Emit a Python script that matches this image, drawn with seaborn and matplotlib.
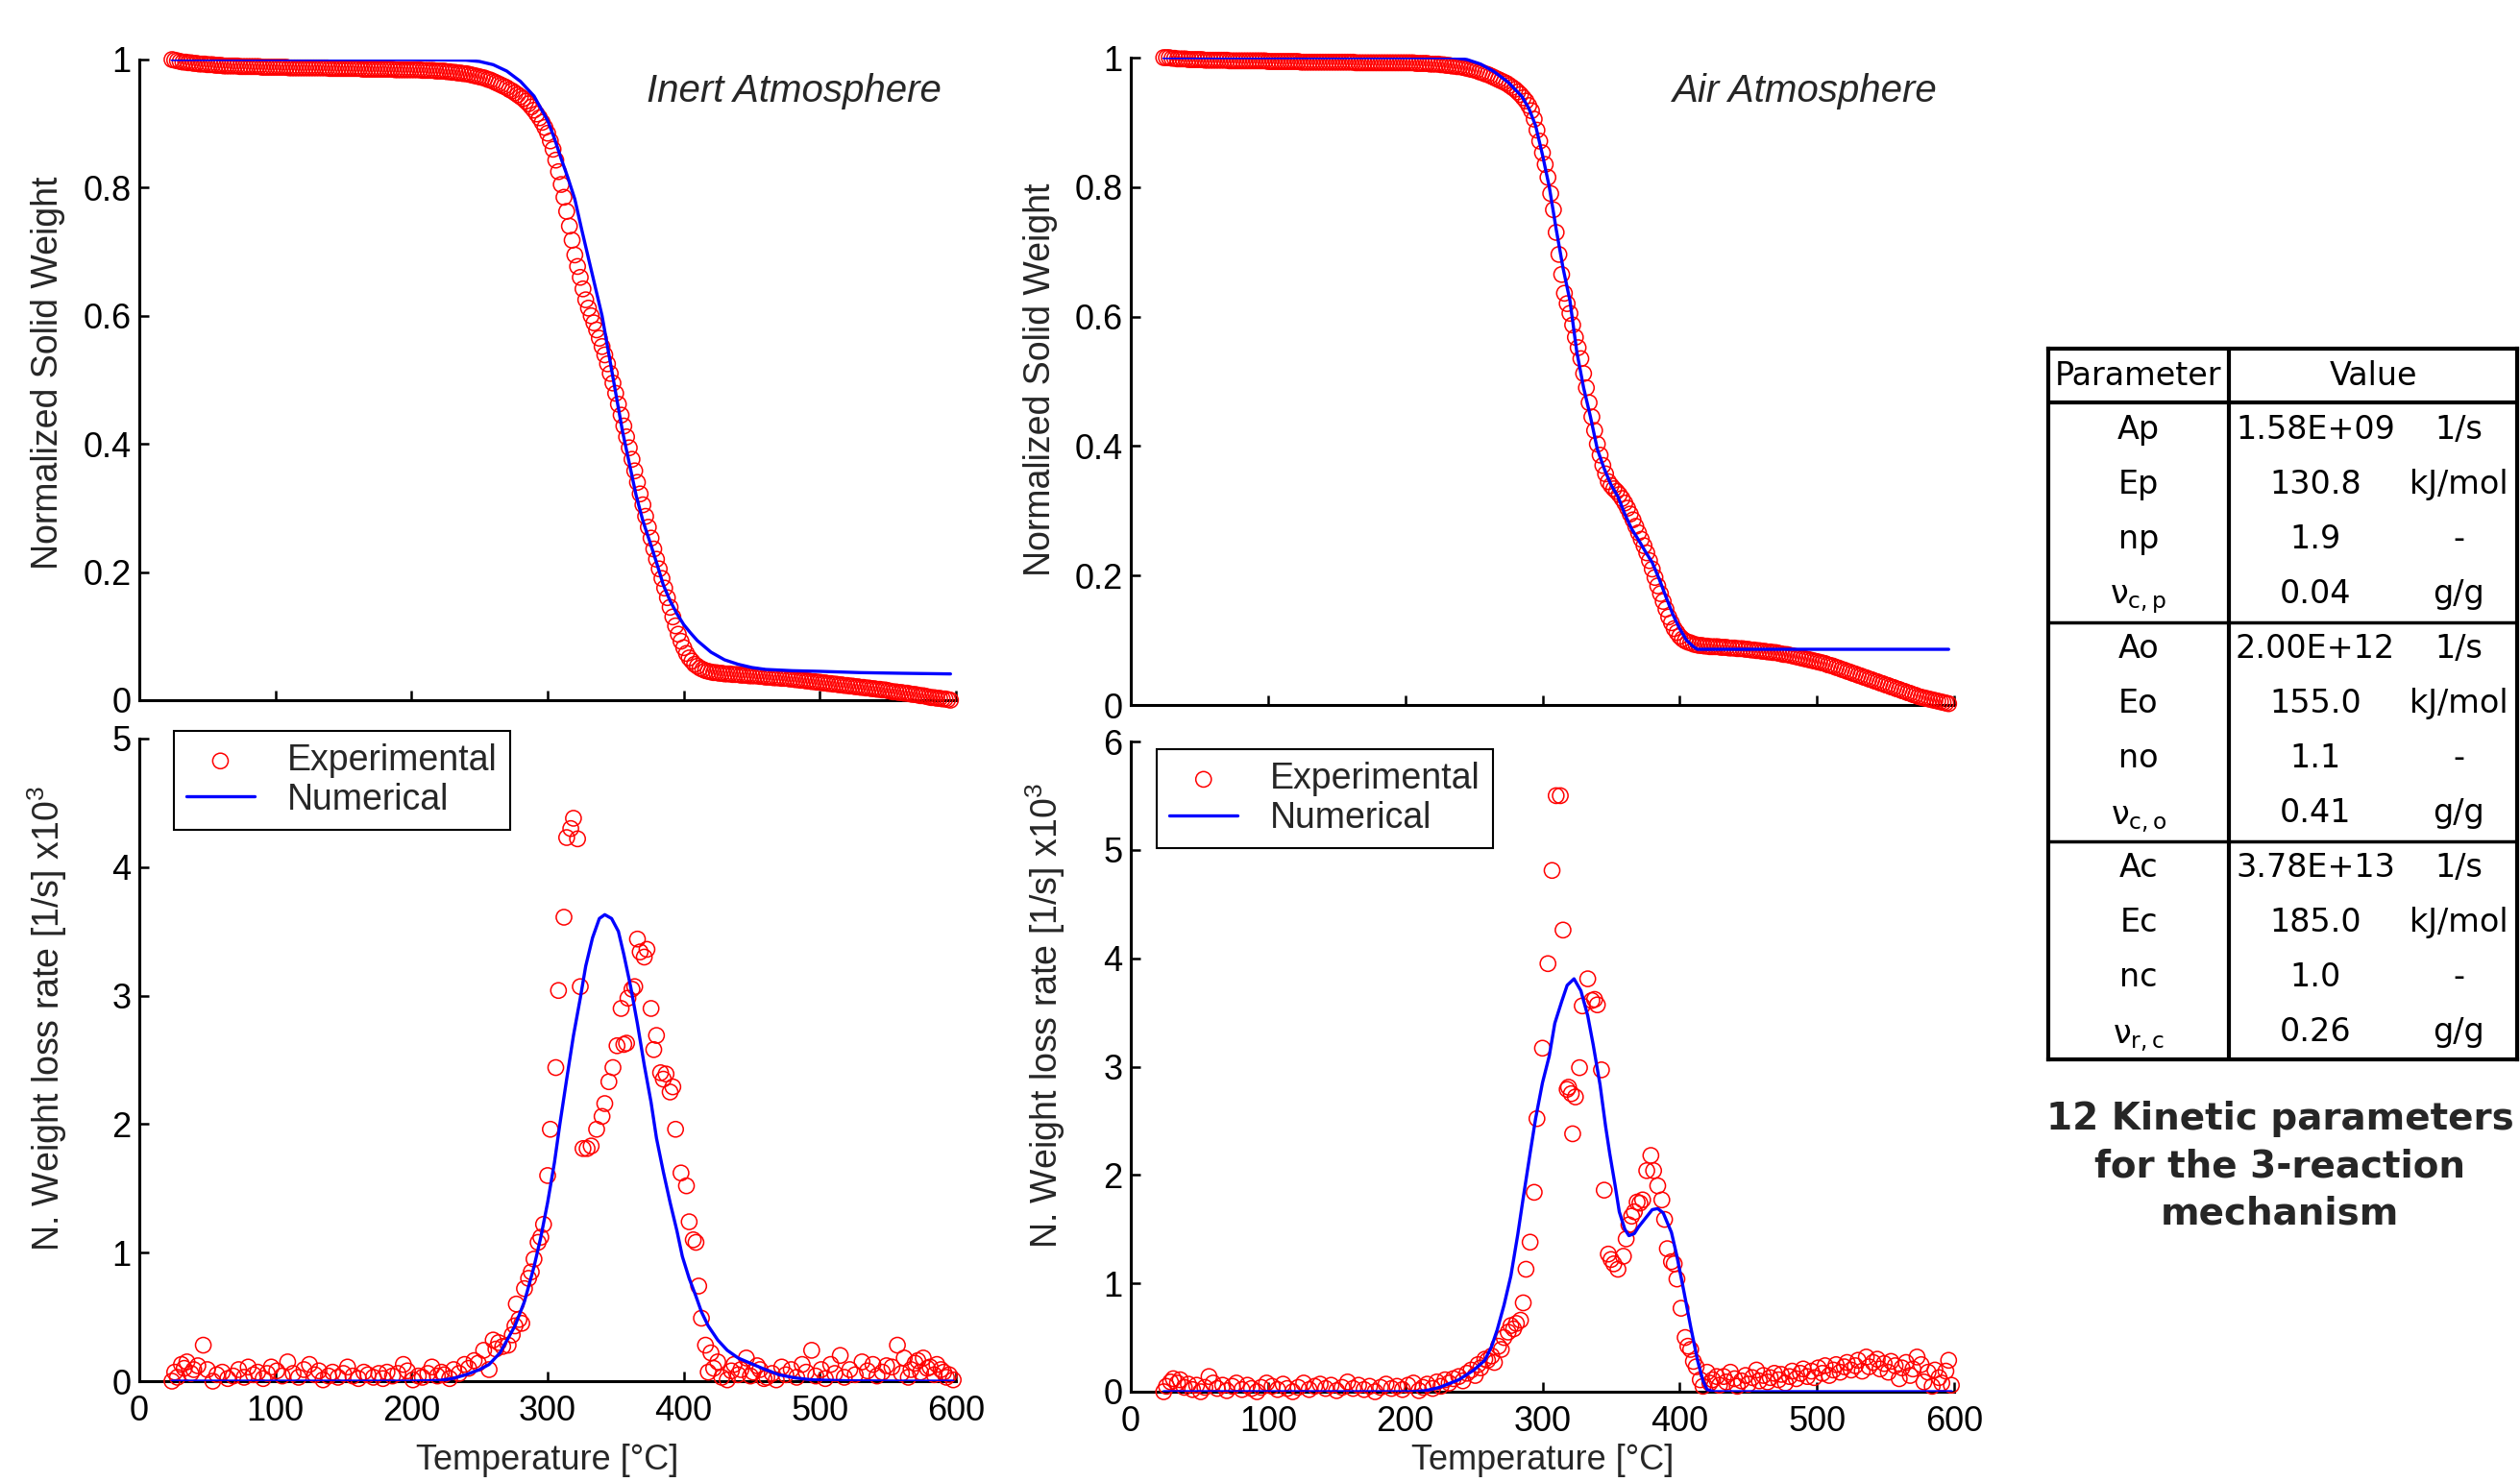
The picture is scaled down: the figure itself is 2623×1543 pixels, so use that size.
import matplotlib
matplotlib.use('Agg')
import matplotlib.pyplot as plt
import seaborn as sns

sns.set_style('white')
plt.rcParams['font.family'] = ['Liberation Sans', 'DejaVu Sans']
plt.rcParams['mathtext.default'] = 'regular'

# ---------------- data ----------------
# TGA sampling temperatures (experimental weight curves), degC
temp_tga = [24, 26, 28, 30, 32, 34, 36, 38, 40, 42,
            44, 46, 48, 50, 52, 54, 56, 58, 60, 62,
            64, 66, 68, 70, 72, 74, 76, 78, 80, 82,
            84, 86, 88, 90, 92, 94, 96, 98, 100, 102,
            104, 106, 108, 110, 112, 114, 116, 118, 120, 122,
            124, 126, 128, 130, 132, 134, 136, 138, 140, 142,
            144, 146, 148, 150, 152, 154, 156, 158, 160, 162,
            164, 166, 168, 170, 172, 174, 176, 178, 180, 182,
            184, 186, 188, 190, 192, 194, 196, 198, 200, 202,
            204, 206, 208, 210, 212, 214, 216, 218, 220, 222,
            224, 226, 228, 230, 232, 234, 236, 238, 240, 242,
            244, 246, 248, 250, 252, 254, 256, 258, 260, 262,
            264, 266, 268, 270, 272, 274, 276, 278, 280, 282,
            284, 286, 288, 290, 292, 294, 296, 298, 300, 302,
            304, 306, 308, 310, 312, 314, 316, 318, 320, 322,
            324, 326, 328, 330, 332, 334, 336, 338, 340, 342,
            344, 346, 348, 350, 352, 354, 356, 358, 360, 362,
            364, 366, 368, 370, 372, 374, 376, 378, 380, 382,
            384, 386, 388, 390, 392, 394, 396, 398, 400, 402,
            404, 406, 408, 410, 412, 414, 416, 418, 420, 422,
            424, 426, 428, 430, 432, 434, 436, 438, 440, 442,
            444, 446, 448, 450, 452, 454, 456, 458, 460, 462,
            464, 466, 468, 470, 472, 474, 476, 478, 480, 482,
            484, 486, 488, 490, 492, 494, 496, 498, 500, 502,
            504, 506, 508, 510, 512, 514, 516, 518, 520, 522,
            524, 526, 528, 530, 532, 534, 536, 538, 540, 542,
            544, 546, 548, 550, 552, 554, 556, 558, 560, 562,
            564, 566, 568, 570, 572, 574, 576, 578, 580, 582,
            584, 586, 588, 590, 592, 594, 596]

weight_inert_exp = [1.000, 0.999, 0.998, 0.997, 0.996, 0.996, 0.995, 0.995, 0.994, 0.994,
                    0.993, 0.993, 0.993, 0.992, 0.992, 0.992, 0.991, 0.991, 0.991, 0.990,
                    0.990, 0.990, 0.990, 0.990, 0.990, 0.989, 0.989, 0.989, 0.989, 0.989,
                    0.989, 0.989, 0.989, 0.988, 0.988, 0.988, 0.988, 0.988, 0.988, 0.988,
                    0.988, 0.988, 0.988, 0.987, 0.987, 0.987, 0.987, 0.987, 0.987, 0.987,
                    0.987, 0.987, 0.987, 0.987, 0.987, 0.987, 0.987, 0.987, 0.986, 0.986,
                    0.986, 0.986, 0.986, 0.986, 0.986, 0.986, 0.986, 0.986, 0.986, 0.986,
                    0.985, 0.985, 0.985, 0.985, 0.985, 0.985, 0.985, 0.985, 0.985, 0.985,
                    0.985, 0.985, 0.984, 0.984, 0.984, 0.984, 0.984, 0.984, 0.984, 0.984,
                    0.984, 0.984, 0.983, 0.983, 0.983, 0.983, 0.983, 0.982, 0.982, 0.982,
                    0.982, 0.981, 0.981, 0.980, 0.980, 0.979, 0.979, 0.978, 0.978, 0.977,
                    0.976, 0.975, 0.974, 0.973, 0.972, 0.971, 0.969, 0.968, 0.966, 0.964,
                    0.962, 0.960, 0.958, 0.956, 0.953, 0.951, 0.948, 0.945, 0.942, 0.939,
                    0.935, 0.931, 0.926, 0.921, 0.915, 0.909, 0.902, 0.894, 0.885, 0.873,
                    0.860, 0.843, 0.825, 0.805, 0.785, 0.763, 0.740, 0.718, 0.695, 0.677,
                    0.660, 0.642, 0.625, 0.612, 0.600, 0.589, 0.578, 0.565, 0.552, 0.539,
                    0.525, 0.510, 0.495, 0.479, 0.462, 0.445, 0.428, 0.411, 0.394, 0.376,
                    0.358, 0.340, 0.322, 0.305, 0.287, 0.270, 0.253, 0.236, 0.220, 0.205,
                    0.190, 0.175, 0.160, 0.145, 0.130, 0.116, 0.103, 0.092, 0.082, 0.073,
                    0.066, 0.061, 0.056, 0.053, 0.050, 0.048, 0.046, 0.045, 0.044, 0.043,
                    0.043, 0.042, 0.042, 0.041, 0.041, 0.041, 0.040, 0.040, 0.040, 0.039,
                    0.039, 0.039, 0.038, 0.038, 0.038, 0.038, 0.037, 0.037, 0.036, 0.036,
                    0.036, 0.035, 0.035, 0.035, 0.034, 0.034, 0.034, 0.033, 0.033, 0.032,
                    0.032, 0.031, 0.031, 0.030, 0.030, 0.029, 0.029, 0.028, 0.028, 0.027,
                    0.027, 0.026, 0.026, 0.025, 0.025, 0.024, 0.024, 0.023, 0.023, 0.022,
                    0.022, 0.021, 0.021, 0.020, 0.020, 0.019, 0.019, 0.018, 0.018, 0.017,
                    0.017, 0.016, 0.016, 0.015, 0.014, 0.013, 0.013, 0.012, 0.012, 0.011,
                    0.011, 0.010, 0.009, 0.009, 0.008, 0.007, 0.007, 0.006, 0.005, 0.004,
                    0.004, 0.003, 0.003, 0.002, 0.002, 0.001, 0.000]

weight_air_exp = [1.000, 1.000, 1.000, 0.999, 0.999, 0.998, 0.998, 0.998, 0.998, 0.997,
                  0.997, 0.997, 0.997, 0.997, 0.997, 0.996, 0.996, 0.996, 0.996, 0.996,
                  0.996, 0.996, 0.996, 0.996, 0.995, 0.995, 0.995, 0.995, 0.995, 0.995,
                  0.995, 0.995, 0.995, 0.995, 0.995, 0.995, 0.995, 0.995, 0.994, 0.994,
                  0.994, 0.994, 0.994, 0.994, 0.994, 0.994, 0.994, 0.994, 0.994, 0.994,
                  0.993, 0.993, 0.993, 0.993, 0.993, 0.993, 0.993, 0.993, 0.993, 0.993,
                  0.993, 0.993, 0.993, 0.993, 0.993, 0.993, 0.993, 0.993, 0.993, 0.993,
                  0.992, 0.992, 0.992, 0.992, 0.992, 0.992, 0.992, 0.992, 0.992, 0.992,
                  0.992, 0.992, 0.992, 0.992, 0.992, 0.992, 0.992, 0.992, 0.992, 0.992,
                  0.992, 0.992, 0.991, 0.991, 0.991, 0.991, 0.991, 0.990, 0.990, 0.990,
                  0.990, 0.989, 0.989, 0.988, 0.988, 0.987, 0.987, 0.986, 0.986, 0.985,
                  0.984, 0.983, 0.982, 0.981, 0.980, 0.978, 0.977, 0.975, 0.974, 0.972,
                  0.970, 0.968, 0.966, 0.964, 0.962, 0.960, 0.957, 0.954, 0.951, 0.947,
                  0.943, 0.938, 0.933, 0.926, 0.918, 0.905, 0.888, 0.871, 0.853, 0.835,
                  0.815, 0.790, 0.765, 0.730, 0.696, 0.665, 0.636, 0.620, 0.605, 0.587,
                  0.568, 0.552, 0.535, 0.512, 0.490, 0.467, 0.445, 0.424, 0.403, 0.386,
                  0.370, 0.357, 0.345, 0.339, 0.334, 0.330, 0.325, 0.319, 0.312, 0.304,
                  0.295, 0.286, 0.276, 0.266, 0.256, 0.246, 0.235, 0.223, 0.210, 0.197,
                  0.184, 0.172, 0.160, 0.148, 0.136, 0.127, 0.118, 0.112, 0.106, 0.102,
                  0.099, 0.097, 0.096, 0.094, 0.093, 0.092, 0.092, 0.091, 0.091, 0.090,
                  0.090, 0.090, 0.090, 0.089, 0.089, 0.089, 0.088, 0.088, 0.088, 0.087,
                  0.087, 0.087, 0.086, 0.086, 0.085, 0.085, 0.084, 0.084, 0.083, 0.083,
                  0.082, 0.082, 0.081, 0.081, 0.080, 0.079, 0.078, 0.078, 0.077, 0.076,
                  0.075, 0.074, 0.073, 0.072, 0.071, 0.070, 0.069, 0.068, 0.067, 0.066,
                  0.065, 0.064, 0.062, 0.061, 0.060, 0.058, 0.057, 0.055, 0.054, 0.052,
                  0.051, 0.049, 0.048, 0.046, 0.045, 0.043, 0.042, 0.040, 0.039, 0.037,
                  0.036, 0.034, 0.033, 0.031, 0.030, 0.028, 0.027, 0.025, 0.024, 0.022,
                  0.021, 0.019, 0.018, 0.016, 0.015, 0.013, 0.012, 0.011, 0.010, 0.009,
                  0.008, 0.007, 0.006, 0.005, 0.004, 0.003, 0.002]

# numerical weight curves
temp_w_inert_num = [24, 100, 200, 240, 250, 260, 270, 280, 290, 300,
                    305, 310, 315, 320, 325, 330, 335, 340, 345, 350,
                    355, 360, 365, 370, 375, 380, 385, 390, 395, 400,
                    405, 410, 420, 430, 440, 450, 460, 480, 500, 530,
                    560, 596]
weight_inert_num = [1.000, 1.000, 1.000, 0.999, 0.997, 0.992, 0.982, 0.966, 0.943, 0.905,
                    0.877, 0.845, 0.815, 0.782, 0.735, 0.690, 0.645, 0.600, 0.540, 0.480,
                    0.420, 0.370, 0.320, 0.280, 0.248, 0.215, 0.180, 0.155, 0.135, 0.118,
                    0.105, 0.093, 0.075, 0.063, 0.056, 0.051, 0.048, 0.046, 0.045, 0.043,
                    0.042, 0.041]

temp_w_air_num = [24, 100, 200, 235, 245, 255, 265, 275, 285, 290,
                  295, 300, 305, 310, 315, 320, 325, 330, 335, 340,
                  345, 350, 355, 360, 365, 370, 375, 380, 385, 390,
                  395, 400, 405, 410, 413, 450, 500, 550, 596]
weight_air_num = [1.000, 1.000, 1.000, 1.000, 0.997, 0.990, 0.978, 0.962, 0.940, 0.922,
                  0.895, 0.850, 0.800, 0.735, 0.675, 0.625, 0.546, 0.490, 0.445, 0.395,
                  0.365, 0.340, 0.322, 0.295, 0.272, 0.255, 0.237, 0.220, 0.195, 0.167,
                  0.140, 0.118, 0.100, 0.090, 0.086, 0.086, 0.086, 0.086, 0.086]

# experimental weight loss rate, inert
temp_r_inert_exp = [24, 26, 28, 31, 33, 35, 38, 40, 43, 47,
                    50, 54, 57, 61, 65, 69, 73, 77, 80, 84,
                    87, 91, 94, 97, 101, 105, 109, 113, 117, 121,
                    125, 129, 132, 135, 139, 142, 146, 150, 153, 157,
                    161, 165, 168, 172, 176, 179, 182, 186, 190, 194,
                    197, 201, 205, 208, 212, 215, 219, 222, 224, 228,
                    231, 235, 239, 242, 246, 249, 253, 257, 260, 262,
                    264, 267, 271, 274, 276, 277, 279, 281, 283, 286,
                    288, 290, 293, 295, 297, 300, 302, 306, 308, 312,
                    314, 317, 319, 322, 324, 326, 329, 332, 336, 340,
                    342, 345, 348, 351, 354, 356, 358, 359, 362, 364,
                    366, 368, 371, 373, 376, 378, 380, 383, 385, 387,
                    390, 392, 394, 398, 402, 404, 407, 409, 411, 413,
                    416, 418, 420, 422, 425, 428, 432, 435, 437, 440,
                    442, 446, 449, 451, 454, 456, 459, 461, 465, 468,
                    472, 475, 479, 483, 487, 490, 494, 497, 501, 504,
                    508, 511, 515, 518, 522, 526, 531, 535, 539, 542,
                    546, 549, 553, 557, 560, 562, 565, 567, 570, 572,
                    574, 576, 579, 581, 584, 586, 589, 591, 593, 595,
                    598]
rate_inert_exp = [0.00, 0.07, 0.03, 0.13, 0.10, 0.15, 0.06, 0.09, 0.12, 0.28,
                  0.09, 0.00, 0.05, 0.07, 0.02, 0.04, 0.09, 0.03, 0.11, 0.05,
                  0.07, 0.02, 0.06, 0.11, 0.08, 0.04, 0.15, 0.06, 0.03, 0.09,
                  0.13, 0.05, 0.08, 0.01, 0.04, 0.07, 0.03, 0.06, 0.11, 0.04,
                  0.02, 0.07, 0.05, 0.03, 0.06, 0.02, 0.07, 0.04, 0.06, 0.13,
                  0.08, 0.01, 0.04, 0.03, 0.06, 0.11, 0.04, 0.07, 0.05, 0.02,
                  0.09, 0.06, 0.13, 0.10, 0.16, 0.14, 0.24, 0.09, 0.32, 0.25,
                  0.30, 0.27, 0.28, 0.36, 0.43, 0.60, 0.48, 0.45, 0.72, 0.80,
                  0.85, 0.95, 1.08, 1.12, 1.22, 1.60, 1.96, 2.44, 3.04, 3.61,
                  4.23, 4.30, 4.38, 4.22, 3.07, 1.81, 1.81, 1.83, 1.96, 2.06,
                  2.16, 2.33, 2.44, 2.61, 2.90, 2.62, 2.63, 2.98, 3.05, 3.07,
                  3.44, 3.34, 3.30, 3.36, 2.90, 2.58, 2.69, 2.40, 2.35, 2.39,
                  2.25, 2.29, 1.96, 1.62, 1.52, 1.24, 1.10, 1.08, 0.74, 0.49,
                  0.28, 0.07, 0.22, 0.10, 0.15, 0.03, 0.01, 0.08, 0.13, 0.05,
                  0.09, 0.18, 0.04, 0.07, 0.12, 0.09, 0.02, 0.03, 0.06, 0.01,
                  0.11, 0.05, 0.09, 0.03, 0.13, 0.07, 0.24, 0.04, 0.09, 0.02,
                  0.13, 0.06, 0.20, 0.03, 0.09, 0.05, 0.15, 0.08, 0.13, 0.04,
                  0.07, 0.12, 0.11, 0.28, 0.06, 0.18, 0.03, 0.09, 0.14, 0.16,
                  0.07, 0.18, 0.10, 0.11, 0.05, 0.13, 0.09, 0.07, 0.03, 0.05,
                  0.01]

temp_r_inert_num = [24, 200, 220, 230, 240, 250, 257, 265, 276, 283,
                    290, 295, 300, 305, 309, 314, 319, 324, 328, 333,
                    338, 342, 347, 352, 356, 361, 366, 371, 376, 380,
                    385, 390, 395, 399, 404, 409, 413, 418, 425, 432,
                    440, 451, 460, 470, 482, 494, 520, 560, 598]
rate_inert_num = [0.0, 0.0, 0.005, 0.02, 0.05, 0.09, 0.13, 0.22, 0.43, 0.62,
                  0.89, 1.12, 1.39, 1.70, 2.00, 2.35, 2.69, 2.98, 3.23, 3.45,
                  3.60, 3.63, 3.60, 3.50, 3.32, 3.07, 2.78, 2.46, 2.17, 1.89,
                  1.63, 1.39, 1.17, 0.97, 0.80, 0.66, 0.54, 0.43, 0.32, 0.24,
                  0.18, 0.13, 0.09, 0.05, 0.025, 0.01, 0.003, 0.0, 0.0]

# experimental weight loss rate, air
temp_r_air_exp = [24, 26, 29, 31, 34, 36, 39, 42, 45, 48,
                  51, 54, 57, 60, 63, 67, 70, 74, 77, 81,
                  85, 88, 92, 95, 99, 103, 107, 111, 114, 118,
                  122, 126, 130, 134, 138, 142, 146, 150, 154, 158,
                  162, 166, 170, 174, 178, 182, 186, 190, 194, 198,
                  202, 206, 210, 213, 216, 220, 223, 226, 229, 232,
                  235, 239, 242, 245, 248, 251, 253, 255, 258, 260,
                  263, 265, 268, 270, 272, 275, 277, 279, 281, 284,
                  286, 288, 291, 294, 296, 300, 304, 307, 310, 313,
                  315, 318, 319, 321, 322, 324, 327, 329, 333, 336,
                  338, 340, 343, 345, 348, 350, 352, 355, 359, 361,
                  363, 365, 367, 369, 371, 373, 376, 379, 381, 384,
                  387, 389, 391, 394, 396, 398, 401, 404, 406, 408,
                  410, 412, 415, 417, 420, 422, 424, 427, 429, 432,
                  434, 437, 440, 442, 445, 448, 450, 453, 456, 458,
                  461, 464, 466, 469, 472, 474, 477, 480, 482, 485,
                  488, 490, 493, 496, 498, 501, 504, 506, 509, 512,
                  514, 517, 520, 522, 525, 528, 530, 533, 536, 538,
                  541, 544, 546, 549, 552, 554, 557, 560, 562, 565,
                  568, 570, 573, 576, 578, 581, 584, 586, 589, 591,
                  594, 596, 598]
rate_air_exp = [0.00, 0.05, 0.09, 0.12, 0.08, 0.11, 0.04, 0.07, 0.02, 0.06,
                0.00, 0.04, 0.14, 0.08, 0.03, 0.06, 0.01, 0.05, 0.08, 0.02,
                0.06, 0.03, 0.00, 0.04, 0.08, 0.05, 0.02, 0.07, 0.03, 0.00,
                0.04, 0.08, 0.02, 0.05, 0.07, 0.03, 0.06, 0.01, 0.04, 0.09,
                0.03, 0.06, 0.02, 0.05, 0.00, 0.04, 0.07, 0.03, 0.05, 0.02,
                0.06, 0.08, 0.01, 0.04, 0.07, 0.03, 0.09, 0.05, 0.11, 0.08,
                0.12, 0.14, 0.10, 0.17, 0.20, 0.15, 0.25, 0.22, 0.30, 0.29,
                0.33, 0.27, 0.42, 0.39, 0.50, 0.55, 0.61, 0.58, 0.63, 0.66,
                0.82, 1.13, 1.38, 1.84, 2.52, 3.17, 3.95, 4.81, 5.50, 5.50,
                4.26, 2.79, 2.81, 2.75, 2.38, 2.72, 2.99, 3.56, 3.81, 3.61,
                3.62, 3.57, 2.97, 1.86, 1.27, 1.22, 1.18, 1.13, 1.25, 1.41,
                1.54, 1.62, 1.66, 1.75, 1.74, 1.77, 2.04, 2.18, 2.04, 1.90,
                1.77, 1.59, 1.32, 1.20, 1.18, 1.04, 0.77, 0.50, 0.42, 0.39,
                0.28, 0.23, 0.11, 0.05, 0.18, 0.08, 0.11, 0.14, 0.06, 0.14,
                0.09, 0.18, 0.12, 0.05, 0.10, 0.15, 0.07, 0.13, 0.20, 0.10,
                0.15, 0.09, 0.13, 0.17, 0.11, 0.16, 0.08, 0.14, 0.19, 0.12,
                0.17, 0.21, 0.14, 0.19, 0.13, 0.22, 0.17, 0.24, 0.15, 0.20,
                0.25, 0.18, 0.23, 0.27, 0.20, 0.24, 0.29, 0.19, 0.32, 0.23,
                0.27, 0.30, 0.21, 0.26, 0.18, 0.28, 0.24, 0.12, 0.22, 0.27,
                0.15, 0.21, 0.32, 0.25, 0.09, 0.18, 0.05, 0.20, 0.13, 0.08,
                0.19, 0.29, 0.06]

temp_r_air_num = [24, 205, 215, 225, 239, 250, 258, 263, 267, 272,
                  277, 282, 286, 291, 295, 300, 305, 309, 314, 318,
                  323, 328, 333, 337, 342, 346, 349, 353, 356, 360,
                  363, 367, 370, 375, 380, 384, 388, 394, 398, 403,
                  408, 413, 417, 420, 425, 598]
rate_air_num = [0.0, 0.0, 0.01, 0.04, 0.11, 0.20, 0.29, 0.42, 0.57, 0.80,
                1.07, 1.45, 1.79, 2.20, 2.52, 2.85, 3.10, 3.40, 3.60, 3.75,
                3.81, 3.70, 3.47, 3.20, 2.83, 2.45, 2.20, 1.90, 1.66, 1.50,
                1.44, 1.46, 1.52, 1.60, 1.68, 1.69, 1.65, 1.47, 1.25, 0.93,
                0.60, 0.29, 0.10, 0.02, 0.0, 0.0]

# kinetic parameter table
param_names = ['Ap', 'Ep', 'np', r'$\nu_{c,p}$',
               'Ao', 'Eo', 'no', r'$\nu_{c,o}$',
               'Ac', 'Ec', 'nc', r'$\nu_{r,c}$']
param_values = ['1.58E+09', '130.8', '1.9', '0.04',
                '2.00E+12', '155.0', '1.1', '0.41',
                '3.78E+13', '185.0', '1.0', '0.26']
param_units = ['1/s', 'kJ/mol', '-', 'g/g'] * 3

RED = '#ff0000'
BLUE = '#0000ff'
W, H = 2623, 1543


def px_box(left, top, right, bottom):
    return [left / W, 1 - bottom / H, (right - left) / W, (bottom - top) / H]


def style_axes(ax, ymax, yticks, yticklabels, show_x):
    ax.set_xlim(0, 600)
    ax.set_ylim(0, ymax)
    ax.set_xticks([0, 100, 200, 300, 400, 500, 600])
    ax.set_yticks(yticks)
    ax.set_yticklabels(yticklabels)
    ax.spines['top'].set_visible(False)
    ax.spines['right'].set_visible(False)
    for s in ['left', 'bottom']:
        ax.spines[s].set_linewidth(2.2)
        ax.spines[s].set_color('black')
    ax.tick_params(direction='in', length=7, width=1.8, labelsize=26,
                   colors='black', left=True, bottom=True)
    ax.tick_params(axis='y', pad=6)
    ax.tick_params(axis='x', pad=10, labelbottom=show_x)
    ax.set_xlabel('')
    ax.set_ylabel('')


def draw(ax, t_exp, v_exp, t_num, v_num):
    sns.scatterplot(x=t_exp, y=v_exp, ax=ax, marker='o', s=135, color=RED,
                    facecolor='none', edgecolor=RED, linewidth=1.1,
                    label='Experimental', clip_on=False, zorder=3)
    sns.lineplot(x=t_num, y=v_num, ax=ax, color=BLUE, linewidth=2.4,
                 label='Numerical', zorder=4)


fig = plt.figure(figsize=(W / 100, H / 100), dpi=100)

ax_wi = fig.add_axes(px_box(145, 62, 995, 729))
ax_ri = fig.add_axes(px_box(145, 769, 995, 1438))
ax_wa = fig.add_axes(px_box(1177, 60, 2034, 734))
ax_ra = fig.add_axes(px_box(1177, 772, 2034, 1449))

draw(ax_wi, temp_tga, weight_inert_exp, temp_w_inert_num, weight_inert_num)
draw(ax_wa, temp_tga, weight_air_exp, temp_w_air_num, weight_air_num)
draw(ax_ri, temp_r_inert_exp, rate_inert_exp, temp_r_inert_num, rate_inert_num)
draw(ax_ra, temp_r_air_exp, rate_air_exp, temp_r_air_num, rate_air_num)

w_ticks = [0, 0.2, 0.4, 0.6, 0.8, 1]
w_labels = ['0', '0.2', '0.4', '0.6', '0.8', '1']
style_axes(ax_wi, 1, w_ticks, w_labels, False)
style_axes(ax_wa, 1, w_ticks, w_labels, False)
style_axes(ax_ri, 5, [0, 1, 2, 3, 4, 5], ['0', '1', '2', '3', '4', '5'], True)
style_axes(ax_ra, 6, [0, 1, 2, 3, 4, 5, 6], ['0', '1', '2', '3', '4', '5', '6'], True)

for ax in [ax_wi, ax_wa]:
    ax.get_legend().remove()
    ax.set_ylabel('Normalized Solid Weight', fontsize=27)
ax_wi.yaxis.set_label_coords(-0.091, 0.511)
ax_wa.yaxis.set_label_coords(-0.089, 0.503)

ax_wi.text(0.982, 0.95, 'Inert Atmosphere', transform=ax_wi.transAxes,
           ha='right', va='center', fontsize=29, style='italic')
ax_wa.text(0.98, 0.948, 'Air Atmosphere', transform=ax_wa.transAxes,
           ha='right', va='center', fontsize=29, style='italic')

rate_label = 'N. Weight loss rate [1/s] x10$^3$'
ax_ri.set_ylabel(rate_label, fontsize=27)
ax_ra.set_ylabel(rate_label, fontsize=27)
ax_ri.yaxis.set_label_coords(-0.086, 0.564)
ax_ra.yaxis.set_label_coords(-0.077, 0.578)

ax_ri.set_xlabel('Temperature [°C]', fontsize=26)
ax_ra.set_xlabel('Temperature [°C]', fontsize=26)
ax_ri.xaxis.set_label_coords(0.5, -0.097)
ax_ra.xaxis.set_label_coords(0.5, -0.080)

for ax, anchor in [(ax_ri, (0.042, 1.012)), (ax_ra, (0.0315, 0.988))]:
    handles, labels = ax.get_legend_handles_labels()
    leg = ax.legend(handles, labels, loc='upper left', bbox_to_anchor=anchor,
                    fontsize=27, frameon=True, fancybox=False, edgecolor='black',
                    framealpha=1, borderpad=0.35, labelspacing=0.12,
                    handlelength=1.9, handletextpad=0.9, borderaxespad=0)
    leg.get_frame().set_linewidth(1.5)

# parameter table
tab = fig.add_axes(px_box(2132, 363, 2620, 1103))
tab.set_xlim(0, 488)
tab.set_ylim(740, 0)
tab.set_xticks([])
tab.set_yticks([])
for s in tab.spines.values():
    s.set_linewidth(3)
    s.set_color('black')
tab.axvline(188, color='black', lw=3)
tab.axhline(56, color='black', lw=3)
tab.axhline(285, color='black', lw=2.5)
tab.axhline(513, color='black', lw=2.5)

tfont = dict(family='DejaVu Sans', fontsize=24, color='black')
tab.text(94, 29, 'Parameter', ha='center', va='center', **tfont)
tab.text(338, 29, 'Value', ha='center', va='center', **tfont)
for i in range(len(param_names)):
    yc = 84.5 + 57 * i
    off = 6 if param_names[i].startswith('$') else 0
    tab.text(94, yc + off, param_names[i], ha='center', va='center', **tfont)
    tab.text(278, yc, param_values[i], ha='center', va='center', **tfont)
    tab.text(427, yc, param_units[i], ha='center', va='center', **tfont)

fig.text(2373 / W, 1 - 1214 / H, '12 Kinetic parameters\nfor the 3-reaction\nmechanism',
         ha='center', va='center', fontsize=28, fontweight='bold',
         family='DejaVu Sans', linespacing=1.38, multialignment='center')

fig.savefig('out.png', dpi=100, facecolor='white')
